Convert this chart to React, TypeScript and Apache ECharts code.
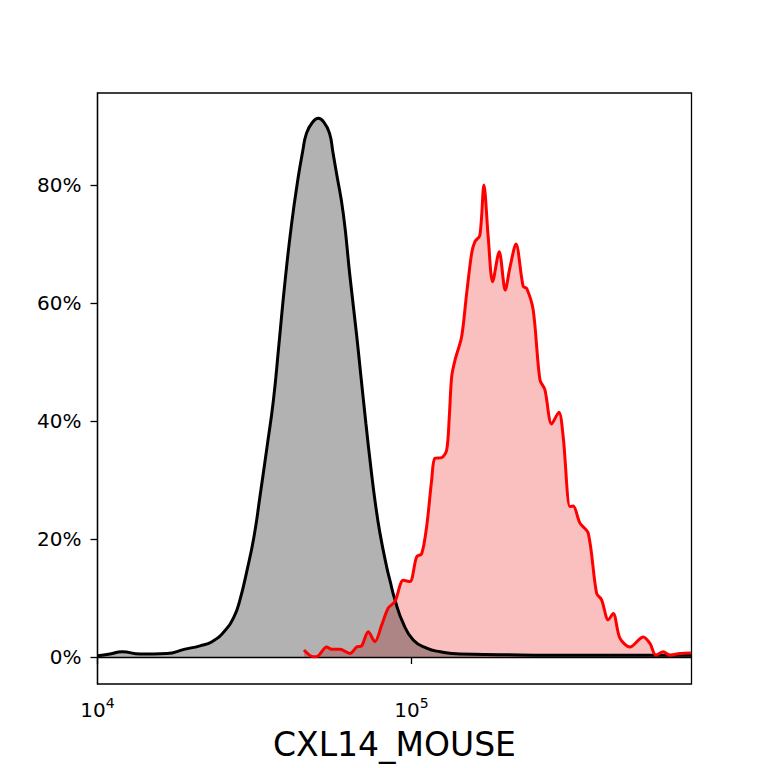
import React, { useEffect, useRef } from "react";
import * as echarts from "echarts";

// Control (black / gray) histogram: intensity and percent of max
const controlX = [
  10000, 10960, 11970, 13660, 16650, 18860, 21210, 23160, 25290, 27210,
  28430, 29940, 31510, 32920, 34650, 36330, 37840, 39540, 41540, 43610,
  44970, 46330, 48510, 50490, 52520, 54820, 56240, 57500, 60650, 63710,
  66920, 68910, 71640, 74300, 76770, 79380, 83370, 85410, 88600, 94170,
  101330, 111790, 123270, 142700, 191300, 276100, 398600, 575000, 776500,
];
const controlY = [
  0.2, 0.5, 0.9, 0.5, 0.6, 1.3, 1.9, 2.6, 4.3, 6.8,
  9.7, 14.7, 20.4, 27.2, 35.5, 43.5, 53.0, 63.5, 73.5, 81.4,
  85.5, 88.8, 90.7, 91.3, 90.7, 88.8, 85.5, 82.5, 75.2, 64.5,
  54.5, 48.0, 39.5, 32.0, 26.0, 21.0, 15.3, 13.0, 9.7, 5.7,
  2.9, 1.5, 0.9, 0.5, 0.4, 0.3, 0.3, 0.3, 0.3,
];

// Stained (red) histogram
const stainX = [
  45470, 48680, 50490, 53700, 55700, 59190, 63710, 66920, 69390, 72850,
  76510, 80380, 84370, 88600, 94170, 98900, 103900, 107800, 111800, 116000,
  118800, 124800, 129500, 132000, 134300, 137600, 144500, 149900, 155500, 159300,
  165200, 170200, 175600, 181400, 190400, 199000, 205900, 215200, 227000, 232800,
  244300, 256600, 266200, 279600, 294900, 304400, 319700, 327600, 344100, 365700,
  388900, 403400, 423500, 439300, 461400, 496500, 547400, 575000, 600800, 634000,
  665900, 716400, 776500,
];
const stainY = [
  1.2, 0.05, 0.2, 1.7, 1.3, 1.3, 0.6, 1.7, 1.9, 4.3,
  2.6, 5.4, 8.3, 9.4, 13.0, 12.8, 17.0, 17.5, 22.1, 30.0,
  33.7, 33.8, 35.1, 40.7, 47.5, 50.3, 54.3, 61.6, 68.4, 70.4,
  71.5, 80.0, 71.2, 63.6, 68.7, 62.2, 66.0, 70.0, 62.8, 62.5,
  58.8, 47.0, 45.3, 39.5, 41.5, 37.3, 25.5, 25.6, 22.7, 21.0,
  10.8, 9.7, 6.3, 7.4, 3.2, 1.7, 3.4, 2.3, 0.3, 0.9,
  0.3, 0.6, 0.7,
];

const xTicks = [10000, 100000];
const yTicks = [0, 20, 40, 60, 80];
const xTitle = "CXL14_MOUSE";

const FONT = "DejaVu Sans";

export default function App() {
  const ref = useRef<HTMLDivElement>(null);

  useEffect(() => {
    if (!ref.current) return;
    const chart = echarts.init(ref.current, undefined, { renderer: "svg" });
    const control = controlX.map((x, i) => [x, controlY[i]]);
    const stain = stainX.map((x, i) => [x, stainY[i]]);

    chart.setOption({
      animation: false,
      backgroundColor: "#ffffff",
      grid: {
        left: 97.5,
        right: 76.5,
        top: 93,
        bottom: 84,
        show: true,
        borderColor: "#000",
        borderWidth: 1.3,
        backgroundColor: "transparent",
      },
      xAxis: {
        type: "log",
        logBase: 10,
        min: 10000,
        max: 780000,
        name: xTitle,
        nameLocation: "middle",
        nameGap: 44,
        nameTextStyle: { fontSize: 33, color: "#000", fontFamily: FONT },
        axisLine: { show: true, lineStyle: { color: "#000", width: 1.3 } },
        axisTick: {
          show: true,
          length: 7,
          lineStyle: { color: "#000", width: 1.3 },
          customValues: xTicks,
        },
        minorTick: { show: false },
        splitLine: { show: false },
        axisLabel: {
          margin: 12,
          customValues: xTicks,
          formatter: (v: number) => `{b|10}{s|${Math.round(Math.log10(v))}}`,
          rich: {
            b: { fontSize: 20, color: "#000", fontFamily: FONT, padding: [4, 0, 0, 0] },
            s: { fontSize: 14, color: "#000", fontFamily: FONT, verticalAlign: "top" },
          },
        },
      },
      yAxis: {
        type: "value",
        min: -4.57,
        max: 95.6,
        axisLine: { show: true, lineStyle: { color: "#000", width: 1.3 } },
        axisTick: {
          show: true,
          length: 7,
          lineStyle: { color: "#000", width: 1.3 },
          customValues: yTicks,
        },
        splitLine: { show: false },
        axisLabel: {
          margin: 16,
          customValues: yTicks,
          formatter: (v: number) => `${Math.round(v)}%`,
          fontSize: 20,
          color: "#000",
          fontFamily: FONT,
        },
      },
      series: [
        {
          type: "line",
          data: stain,
          symbol: "none",
          smooth: 0.3,
          lineStyle: { width: 0, opacity: 0 },
          areaStyle: { color: "rgba(235,0,0,0.25)", opacity: 1 },
          z: 1,
        },
        {
          type: "line",
          data: control,
          symbol: "none",
          smooth: 0.5,
          lineStyle: { width: 3, color: "#000" },
          areaStyle: { color: "rgba(0,0,0,0.3)", opacity: 1 },
          z: 2,
        },
        {
          type: "line",
          data: stain,
          symbol: "none",
          smooth: 0.3,
          lineStyle: { width: 3, color: "#ff0000" },
          z: 3,
        },
      ],
    });

    return () => chart.dispose();
  }, []);

  return (
    <div
      ref={ref}
      style={{ position: "fixed", left: 0, top: 0, width: 768, height: 768 }}
    />
  );
}
